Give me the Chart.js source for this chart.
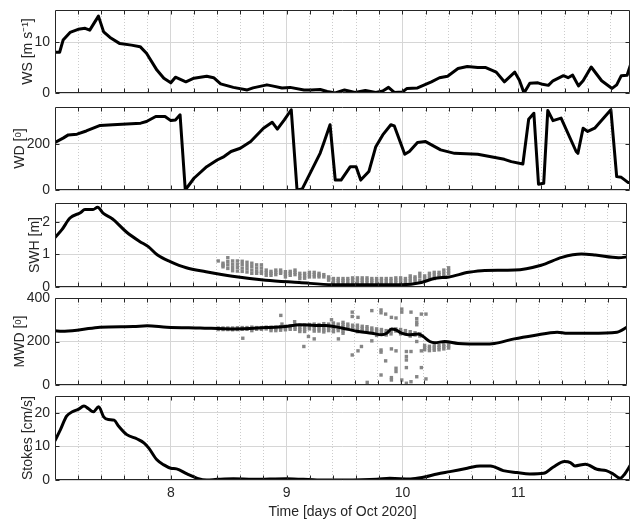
<!DOCTYPE html>
<html>
<head>
<meta charset="utf-8">
<title>Met-ocean time series, Oct 2020</title>
<script src="https://cdn.jsdelivr.net/npm/chart.js@4.4.1/dist/chart.umd.min.js"></script>
<style>
  html, body { margin: 0; padding: 0; background: #fff; }
  #figure { position: relative; width: 631px; height: 525px; overflow: hidden; }
  #figure canvas { position: absolute; left: 0; }
</style>
</head>
<body>
<div id="figure"></div>
<script>
// ---- data (time in days of October 2020) ----
const dayTicks = [8, 9, 10, 11];
const wsTicks = [0, 10];
const wdTicks = [0, 200];
const swhTicks = [0, 1, 2];
const mwdTicks = [0, 200, 400];
const stokesTicks = [0, 10, 20];

// wind speed [m/s]
const wsDays = [7.00, 7.04, 7.07, 7.13, 7.20, 7.26, 7.30, 7.375, 7.42, 7.475, 7.56, 7.66, 7.735, 7.79, 7.88, 7.94,
  8.00, 8.04, 8.13, 8.20, 8.31, 8.37, 8.43, 8.54, 8.66, 8.71, 8.83, 8.875, 8.96, 9.03, 9.15, 9.21, 9.29, 9.35,
  9.42, 9.50, 9.59, 9.68, 9.77, 9.83, 9.88, 9.93, 10.00, 10.04, 10.13, 10.25, 10.32, 10.39, 10.48, 10.56, 10.65,
  10.72, 10.81, 10.88, 10.97, 11.01, 11.05, 11.10, 11.17, 11.21, 11.26, 11.30, 11.39, 11.43, 11.47, 11.52, 11.56,
  11.63, 11.72, 11.81, 11.85, 11.89, 11.94, 11.98];
const wsValues = [8.0, 8.0, 10.4, 11.9, 12.5, 12.7, 12.35, 15.1, 12.0, 10.9, 9.7, 9.4, 9.1, 7.8, 4.5, 2.9,
  2.0, 3.1, 2.2, 2.9, 3.3, 3.0, 1.8, 1.1, 0.6, 1.0, 1.6, 1.4, 1.0, 1.1, 0.6, 0.6, 0.7, 0.3,
  0.0, 0.6, 0.1, 0.5, 0.1, 0.4, 1.1, 0.1, 0.2, 0.9, 1.0, 2.2, 3.0, 3.3, 4.8, 5.2, 5.0,
  5.0, 4.1, 2.2, 4.1, 2.5, 0.0, 1.9, 2.0, 1.7, 1.5, 2.4, 3.4, 3.0, 3.5, 1.4, 2.4,
  5.1, 2.4, 0.9, 1.6, 3.4, 3.5, 6.3];

// wind direction [deg]
const wdDays = [7.00, 7.07, 7.115, 7.19, 7.27, 7.39, 7.50, 7.74, 7.79, 7.87, 7.95, 8.00, 8.04, 8.08, 8.125,
  8.20, 8.31, 8.40, 8.46, 8.52, 8.60, 8.69, 8.80, 8.875, 8.92, 8.98, 9.04, 9.09, 9.135, 9.21, 9.29, 9.32,
  9.375, 9.42, 9.47, 9.55, 9.60, 9.64, 9.71, 9.77, 9.83, 9.90, 9.93, 10.02, 10.06, 10.13, 10.20, 10.33,
  10.45, 10.65, 10.88, 10.94, 11.04, 11.09, 11.135, 11.175, 11.22, 11.255, 11.30, 11.37, 11.50, 11.515,
  11.56, 11.60, 11.66, 11.80, 11.85, 11.89, 11.95, 11.98];
const wdValues = [206, 225, 239, 242, 256, 280, 283, 290, 297, 319, 319, 301, 304, 326, 0,
  51, 101, 130, 145, 167, 181, 210, 268, 294, 264, 304, 348, 0, 5, 80, 160, 203,
  283, 43, 43, 101, 101, 43, 80, 188, 239, 283, 278, 155, 167, 206, 210, 174,
  159, 155, 133, 123, 113, 307, 333, 25, 29, 345, 301, 312, 167, 159,
  268, 254, 268, 348, 58, 55, 32, 32];

// significant wave height [m], model
const swhDays = [7.00, 7.06, 7.13, 7.22, 7.26, 7.33, 7.37, 7.42, 7.50, 7.62, 7.735, 7.81, 7.89, 8.00, 8.14,
  8.31, 8.54, 8.83, 9.12, 9.41, 9.78, 10.01, 10.18, 10.29, 10.42, 10.59, 10.73, 10.99, 11.22, 11.40,
  11.57, 11.69, 11.89, 11.98];
const swhValues = [1.52, 1.76, 2.12, 2.28, 2.38, 2.38, 2.45, 2.26, 2.09, 1.69, 1.40, 1.24, 0.98, 0.78, 0.59,
  0.47, 0.33, 0.21, 0.14, 0.07, 0.07, 0.07, 0.14, 0.26, 0.31, 0.45, 0.51, 0.52, 0.67, 0.91,
  1.01, 0.98, 0.90, 0.93];

// mean wave direction [deg], model
const mwdDays = [7.00, 7.06, 7.22, 7.39, 7.68, 7.80, 7.97, 8.26, 8.54, 8.83, 9.00, 9.12, 9.26, 9.35, 9.49,
  9.635, 9.75, 9.836, 9.879, 9.922, 9.957, 10.009, 10.066, 10.153, 10.196, 10.253, 10.297, 10.383, 10.498,
  10.728, 10.814, 10.986, 11.159, 11.36, 11.447, 11.648, 11.878, 11.973];
const mwdValues = [249, 247, 254, 266, 269, 272, 266, 262, 258, 264, 269, 277, 274, 274, 262,
  246, 238, 231, 238, 258, 254, 238, 231, 234, 223, 200, 194, 200, 191,
  188, 191, 212, 228, 243, 238, 238, 243, 269];

// Stokes drift [cm/s]
const stokesDays = [7.00, 7.047, 7.10, 7.15, 7.20, 7.25, 7.29, 7.33, 7.377, 7.42, 7.46, 7.51, 7.55, 7.62, 7.71,
  7.77, 7.81, 7.88, 7.94, 8.00, 8.05, 8.14, 8.23, 8.31, 8.40, 8.54, 8.71, 9.00, 9.29, 9.49, 9.78, 9.89,
  10.07, 10.18, 10.30, 10.41, 10.56, 10.67, 10.76, 10.87, 10.99, 11.10, 11.22, 11.30, 11.40, 11.45,
  11.49, 11.58, 11.68, 11.76, 11.82, 11.88, 11.92, 11.97];
const stokesValues = [11.7, 15.0, 19.0, 20.3, 21.0, 22.0, 21.2, 20.3, 21.8, 18.8, 18.0, 17.8, 16.0, 13.5, 12.2,
  11.0, 9.5, 6.0, 4.5, 3.5, 3.3, 1.8, 0.5, 0.0, 0.2, 0.4, 0.2, 0.4, 0.0, 0.0, 0.2, 0.5,
  0.3, 0.8, 1.8, 2.5, 3.5, 4.2, 4.2, 2.8, 2.2, 1.8, 2.0, 3.8, 5.5, 5.2,
  4.2, 4.7, 3.2, 2.8, 1.8, 0.5, 1.8, 4.5];

// hourly observations, first one on Oct 8 10:00; each entry holds that hour's samples
const obsStart = 8 + 10 / 24;
const swhObs = [
  [0.80], [0.73, 0.67, 0.62], [0.90, 0.78, 0.68, 0.57], [0.80, 0.70, 0.60, 0.50], [0.80, 0.70, 0.60, 0.49],
  [0.79, 0.69, 0.58, 0.48], [0.76, 0.66, 0.56, 0.46], [0.73, 0.63, 0.52, 0.42], [0.68, 0.58, 0.48, 0.42],
  [0.68, 0.58, 0.47, 0.42], [0.52, 0.44, 0.36], [0.48, 0.42, 0.36], [0.52, 0.45, 0.38], [0.52, 0.46, 0.42],
  [0.47, 0.39, 0.31], [0.48, 0.42, 0.36], [0.52, 0.45, 0.38], [0.42, 0.34, 0.26], [0.42, 0.34, 0.27],
  [0.45, 0.38, 0.31], [0.45, 0.38, 0.31], [0.42, 0.36, 0.31], [0.38, 0.31], [0.31, 0.26, 0.21],
  [0.26, 0.20, 0.14], [0.26, 0.20, 0.14], [0.26, 0.20, 0.14], [0.26, 0.19, 0.11], [0.28, 0.21, 0.14],
  [0.28, 0.21, 0.14], [0.28, 0.21, 0.14], [0.28, 0.21, 0.14], [0.26, 0.20, 0.14], [0.26, 0.20, 0.14],
  [0.26, 0.19, 0.11], [0.26, 0.19, 0.11], [0.26, 0.19, 0.11], [0.28, 0.21, 0.14], [0.28, 0.21, 0.14],
  [0.26, 0.19, 0.11], [0.34, 0.26, 0.18], [0.31, 0.25, 0.18], [0.42, 0.32, 0.21], [0.34, 0.28, 0.21],
  [0.42, 0.34, 0.26], [0.45, 0.36, 0.26], [0.45, 0.38, 0.31], [0.52, 0.43, 0.34], [0.59, 0.50, 0.42]
];
const mwdObs = [
  [262, 255], [262, 255], [262, 255], [262, 254], [263, 255], [264, 256], [264, 256], [266, 258, 250],
  [264, 256], [264, 256], [266, 258], [266, 258, 250], [266, 258, 250], [268, 260, 252],
  [270, 262, 254], [272, 264, 256], [276, 266, 256], [274, 264, 254, 246], [276, 266, 256, 246],
  [278, 268, 258], [280, 270, 258, 248], [278, 268, 258, 248], [282, 272, 262, 252, 244], [280, 270, 260, 250],
  [285, 275, 265, 255, 245], [280, 270, 260, 250], [288, 278, 268, 258, 248, 238], [280, 270, 260],
  [275, 265, 255], [275, 265, 255, 245], [270, 260, 250], [268, 258, 248], [262, 252, 242],
  [258, 248, 238, 228], [255, 245, 235], [250, 240, 230], [255, 245, 235], [258, 248],
  [255, 245, 235], [250, 240], [245, 235, 225], [240, 230], [235, 225], [182, 172, 162],
  [178, 168, 158], [180, 170, 160], [182, 172, 162], [186, 176, 166], [190, 180, 170]
];
// scattered direction samples away from the hourly clusters: [day, deg]
const mwdScatter = [
  [8.63, 215], [8.96, 320], [8.97, 280], [9.08, 291], [9.16, 177], [9.20, 223], [9.25, 212],
  [9.40, 300], [9.46, 212], [9.58, 335], [9.58, 315], [9.63, 311], [9.58, 138], [9.63, 157], [9.66, 177],
  [9.71, 12], [9.75, 342], [9.75, 203], [9.83, 345], [9.83, 332], [9.83, 161], [9.83, 151], [9.83, 46],
  [9.87, 326], [9.87, 111], [9.92, 311], [9.92, 166], [9.92, 34], [9.92, 23], [9.96, 308], [9.96, 157],
  [9.96, 77], [9.96, 62], [10.01, 349], [10.01, 335], [10.01, 23], [10.05, 154], [10.05, 131], [10.05, 115],
  [10.05, 80], [10.05, 8], [10.09, 335], [10.09, 154], [10.09, 15], [10.14, 305], [10.14, 289], [10.14, 277],
  [10.14, 200], [10.14, 38], [10.18, 326], [10.18, 157], [10.18, 80], [10.22, 326], [10.22, 28]
];

// ---- drawing ----
const FONT = { family: "'Liberation Sans', Arial, Helvetica, sans-serif", size: 14 };
const INK = "#262626";
const dayMin = 7;
const dayMax = 11.965;
const minorDays = [];
for (let k = 1; k < 25; k++) minorDays.push(7 + k * 0.2);

const isWhole = (v) => Math.abs(v - Math.round(v)) < 1e-6;
const pairs = (xs, ys) => xs.map((x, i) => ({ x, y: ys[i] }));
const hourly = (cols) => {
  const pts = [];
  cols.forEach((vals, i) => vals.forEach((v) => pts.push({ x: obsStart + i / 24, y: v })));
  return pts;
};

const lineSet = (data, smooth) => ({
  type: "line",
  data,
  borderColor: "#000",
  borderWidth: 3,
  pointRadius: 0,
  borderJoinStyle: "round",
  borderCapStyle: "round",
  cubicInterpolationMode: smooth ? "monotone" : "default",
  tension: 0,
});
const dotSet = (data) => ({
  type: "scatter",
  data,
  pointStyle: "rect",
  pointRadius: 2.4,
  backgroundColor: "#858585",
  borderWidth: 0,
});

// box, inward tick marks, drawn over the data like MATLAB axes
const axesBox = {
  id: "axesBox",
  afterDatasetsDraw(chart) {
    const { ctx, chartArea: a, scales } = chart;
    const L = Math.round(a.left) + 0.5, R = Math.round(a.right) - 0.5;
    const T = Math.round(a.top) + 0.5, B = Math.round(a.bottom) - 0.5;
    ctx.save();
    ctx.strokeStyle = INK;
    ctx.lineWidth = 1;
    ctx.beginPath();
    scales.x.ticks.forEach((t) => {
      const px = Math.round(scales.x.getPixelForValue(t.value)) + 0.5;
      ctx.moveTo(px, T); ctx.lineTo(px, T + 4);
      ctx.moveTo(px, B); ctx.lineTo(px, B - 4);
    });
    scales.y.ticks.forEach((t) => {
      const py = Math.round(scales.y.getPixelForValue(t.value)) + 0.5;
      ctx.moveTo(L, py); ctx.lineTo(L + 4, py);
      ctx.moveTo(R, py); ctx.lineTo(R - 4, py);
    });
    ctx.rect(L, T, R - L, B - T);
    ctx.stroke();
    ctx.restore();
  },
};

// titleGap keeps each y label clear of its tick labels (wider ticks push it left)
const panels = [
  { label: "WS [m s⁻¹]", max: 16.3, ticks: wsTicks, top: 10, bottom: 93, titleGap: 20,
    datasets: [lineSet(pairs(wsDays, wsValues), false)] },
  { label: "WD [ᵒ]", max: 360, ticks: wdTicks, top: 107, bottom: 190, titleGap: 11.5,
    datasets: [lineSet(pairs(wdDays, wdValues), false)] },
  { label: "SWH [m]", max: 2.58, ticks: swhTicks, top: 203, bottom: 287, titleGap: 27,
    datasets: [lineSet(pairs(swhDays, swhValues), true), dotSet(hourly(swhObs))] },
  { label: "MWD [ᵒ]", max: 400, ticks: mwdTicks, top: 298, bottom: 385, titleGap: 12,
    datasets: [lineSet(pairs(mwdDays, mwdValues), true),
      dotSet(hourly(mwdObs).concat(mwdScatter.map(([x, y]) => ({ x, y }))))] },
  { label: "Stokes [cm/s]", max: 25, ticks: stokesTicks, top: 396, bottom: 480, titleGap: 19.5, last: true,
    datasets: [lineSet(pairs(stokesDays, stokesValues), true)] },
];

const figure = document.getElementById("figure");
const PAD = 16;

panels.forEach((p) => {
  const padBottom = p.last ? 0 : PAD;
  const xHeight = p.last ? 525 - p.bottom : 0;
  const top = p.top - PAD;
  const height = p.bottom + padBottom + xHeight - top;

  const canvas = document.createElement("canvas");
  canvas.width = 631;
  canvas.height = height;
  canvas.style.top = top + "px";
  canvas.style.width = "631px";
  canvas.style.height = height + "px";
  figure.appendChild(canvas);

  new Chart(canvas, {
    type: "line",
    data: { datasets: p.datasets },
    options: {
      responsive: false,
      animation: false,
      devicePixelRatio: 1,
      layout: { padding: { top: PAD, bottom: padBottom, left: 0, right: 1 } },
      plugins: { legend: { display: false }, tooltip: { enabled: false } },
      scales: {
        x: {
          type: "linear",
          min: dayMin,
          max: dayMax,
          afterBuildTicks: (s) => { s.ticks = minorDays.map((v) => ({ value: v })); },
          afterFit: (s) => { s.height = xHeight; },
          ticks: {
            display: !!p.last,
            autoSkip: false,
            maxRotation: 0,
            padding: 5,
            color: INK,
            font: FONT,
            callback: (v) => (isWhole(v) && dayTicks.includes(Math.round(v)) ? String(Math.round(v)) : ""),
          },
          grid: {
            drawTicks: false,
            lineWidth: 1,
            color: (c) => (c.tick && isWhole(c.tick.value) ? "#d6d6d6" : "#cccccc"),
          },
          border: {
            display: false,
            dash: (c) => (c.tick && !isWhole(c.tick.value) ? [1, 2] : []),
          },
          title: {
            display: !!p.last,
            text: "Time [days of Oct 2020]",
            color: INK,
            font: FONT,
            padding: { top: 0, bottom: 4.5 },
          },
        },
        y: {
          min: 0,
          max: p.max,
          afterBuildTicks: (s) => { s.ticks = p.ticks.map((v) => ({ value: v })); },
          afterFit: (s) => { s.width = 55; },
          ticks: { padding: 5, color: INK, font: FONT },
          grid: { drawTicks: false, lineWidth: 1, color: "#d6d6d6" },
          border: { display: false },
          title: {
            display: true,
            text: p.label,
            color: INK,
            font: FONT,
            padding: { top: p.titleGap, bottom: 0 },
          },
        },
      },
    },
    plugins: [axesBox],
  });
});
</script>
</body>
</html>
